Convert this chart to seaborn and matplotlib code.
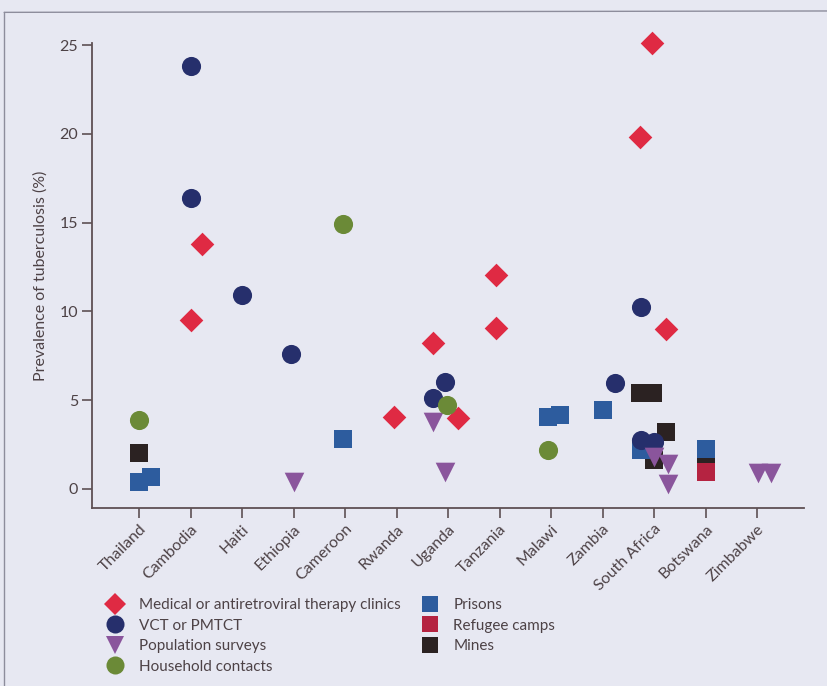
import matplotlib
matplotlib.use("Agg")
import matplotlib.pyplot as plt
from matplotlib.lines import Line2D
import pandas as pd
import seaborn as sns

countries = ["Thailand", "Cambodia", "Haiti", "Ethiopia", "Cameroon", "Rwanda",
             "Uganda", "Tanzania", "Malawi", "Zambia", "South Africa", "Botswana",
             "Zimbabwe"]

# Prevalence (%) per study, grouped by study setting
clinic_country = ["Cambodia", "Cambodia", "Rwanda", "Uganda", "Uganda", "Tanzania",
                  "Tanzania", "South Africa", "South Africa", "South Africa"]
clinic_value = [13.8, 9.5, 4.07, 8.24, 3.98, 12.05, 9.05, 25.13, 19.8, 8.99]

vct_country = ["Cambodia", "Cambodia", "Haiti", "Ethiopia", "Uganda", "Uganda",
               "Zambia", "South Africa", "South Africa", "South Africa"]
vct_value = [23.8, 16.4, 10.9, 7.6, 6.04, 5.1, 5.98, 10.27, 2.76, 2.66]

survey_country = ["Ethiopia", "Uganda", "Uganda", "South Africa", "South Africa",
                  "South Africa", "Zimbabwe", "Zimbabwe"]
survey_value = [0.39, 3.79, 0.98, 1.82, 1.41, 0.3, 0.9, 0.9]

household_country = ["Thailand", "Cameroon", "Uganda", "Malawi"]
household_value = [3.9, 14.9, 4.73, 2.2]

prison_country = ["Thailand", "Thailand", "Cameroon", "Malawi", "Malawi", "Zambia",
                  "South Africa", "Botswana"]
prison_value = [0.38, 0.7, 2.8, 4.07, 4.17, 4.45, 2.2, 2.25]

refugee_country = ["Botswana"]
refugee_value = [0.97]

mine_country = ["Thailand", "South Africa", "South Africa", "South Africa",
                "South Africa", "Botswana"]
mine_value = [2.05, 5.42, 5.38, 3.19, 1.63, 1.6]

# Horizontal nudges so overlapping studies in one country stay visible
clinic_nudge = [0.23, 0.0, -0.04, -0.3, 0.2, -0.06, -0.06, -0.04, -0.28, 0.24]
vct_nudge = [0.0, 0.0, 0.0, -0.04, -0.05, -0.29, 0.24, -0.26, -0.25, 0.0]
survey_nudge = [0.0, -0.3, -0.05, 0.0, 0.27, 0.27, 0.02, 0.27]
household_nudge = [0.0, -0.03, -0.03, -0.06]
prison_nudge = [0.0, 0.24, -0.03, -0.06, 0.18, 0.0, -0.25, 0.0]
refugee_nudge = [0.0]
mine_nudge = [0.0, -0.28, -0.02, 0.24, 0.0, 0.0]

settings = [
    # label, countries, values, nudges, marker, colour, size, z
    ("Mines", mine_country, mine_value, mine_nudge, "s", "#2b2222", 150, 3),
    ("Prisons", prison_country, prison_value, prison_nudge, "s", "#2d5c9e", 150, 4),
    ("Refugee camps", refugee_country, refugee_value, refugee_nudge, "s", "#b52341", 150, 4),
    ("Medical or antiretroviral therapy clinics", clinic_country, clinic_value,
     clinic_nudge, "D", "#df2a43", 145, 5),
    ("VCT or PMTCT", vct_country, vct_value, vct_nudge, "o", "#262f6c", 190, 6),
    ("Population surveys", survey_country, survey_value, survey_nudge, "v", "#8a559c", 200, 7),
    ("Household contacts", household_country, household_value, household_nudge,
     "o", "#6b8a37", 190, 8),
]

bg = "#e7e8f2"
ink = "#4d4246"

sns.set_theme(style="white")
plt.rcParams["font.family"] = ["Lato", "DejaVu Sans"]

fig = plt.figure(figsize=(8.27, 6.86), dpi=100, facecolor=bg)
ax = fig.add_axes([0.1112, 0.2595, 0.861, 0.6774])
ax.set_facecolor(bg)

for label, ctry, vals, nudge, marker, colour, size, z in settings:
    df = pd.DataFrame({"country": ctry, "value": vals, "nudge": nudge})
    df["x"] = df["country"].map(countries.index) + df["nudge"]
    sns.scatterplot(data=df, x="x", y="value", ax=ax, marker=marker, color=colour,
                    s=size, linewidth=0, zorder=z, clip_on=False, legend=False)

ax.set_xlim(-0.913, 12.91)
ax.set_ylim(-1.07, 25.1)
ax.set_xticks(range(len(countries)))
ax.set_xticklabels(countries, rotation=45, ha="right", rotation_mode="anchor")
ax.set_yticks([0, 5, 10, 15, 20, 25])
ax.set_xlabel("")
ax.set_ylabel("Prevalence of tuberculosis (%)", fontsize=11.5, color=ink, labelpad=8)

for side in ("top", "right"):
    ax.spines[side].set_visible(False)
for side in ("left", "bottom"):
    ax.spines[side].set_color("#5e5054")
    ax.spines[side].set_linewidth(1.3)
ax.tick_params(axis="both", direction="out", length=7, width=1.2, color="#5e5054",
               labelsize=11.5, labelcolor=ink, left=True, bottom=True, pad=3)

legend_order = [
    ("Medical or antiretroviral therapy clinics", "D", "#df2a43", 11),
    ("VCT or PMTCT", "o", "#262f6c", 13),
    ("Population surveys", "v", "#8a559c", 13),
    ("Household contacts", "o", "#6b8a37", 13),
    ("Prisons", "s", "#2d5c9e", 12),
    ("Refugee camps", "s", "#b52341", 12),
    ("Mines", "s", "#2b2222", 12),
]
handles = [Line2D([], [], linestyle="none", marker=m, color=c, markersize=ms,
                  markeredgewidth=0, label=lab) for lab, m, c, ms in legend_order]
fig.legend(handles=handles, ncol=2, loc="upper left", bbox_to_anchor=(0.121, 0.137),
           frameon=False, fontsize=11, labelcolor=ink, handletextpad=0.95,
           columnspacing=1.3, labelspacing=0.43, handlelength=1.2, borderaxespad=0)

# Thin frame around the panel
fig.add_artist(Line2D([0.005, 0.005], [0.0, 0.982], transform=fig.transFigure,
                      color="#8d8d9c", linewidth=1.0))
fig.add_artist(Line2D([0.005, 1.0], [0.982, 0.984], transform=fig.transFigure,
                      color="#8d8d9c", linewidth=1.0))

fig.savefig("out.png", dpi=100, facecolor=bg)
